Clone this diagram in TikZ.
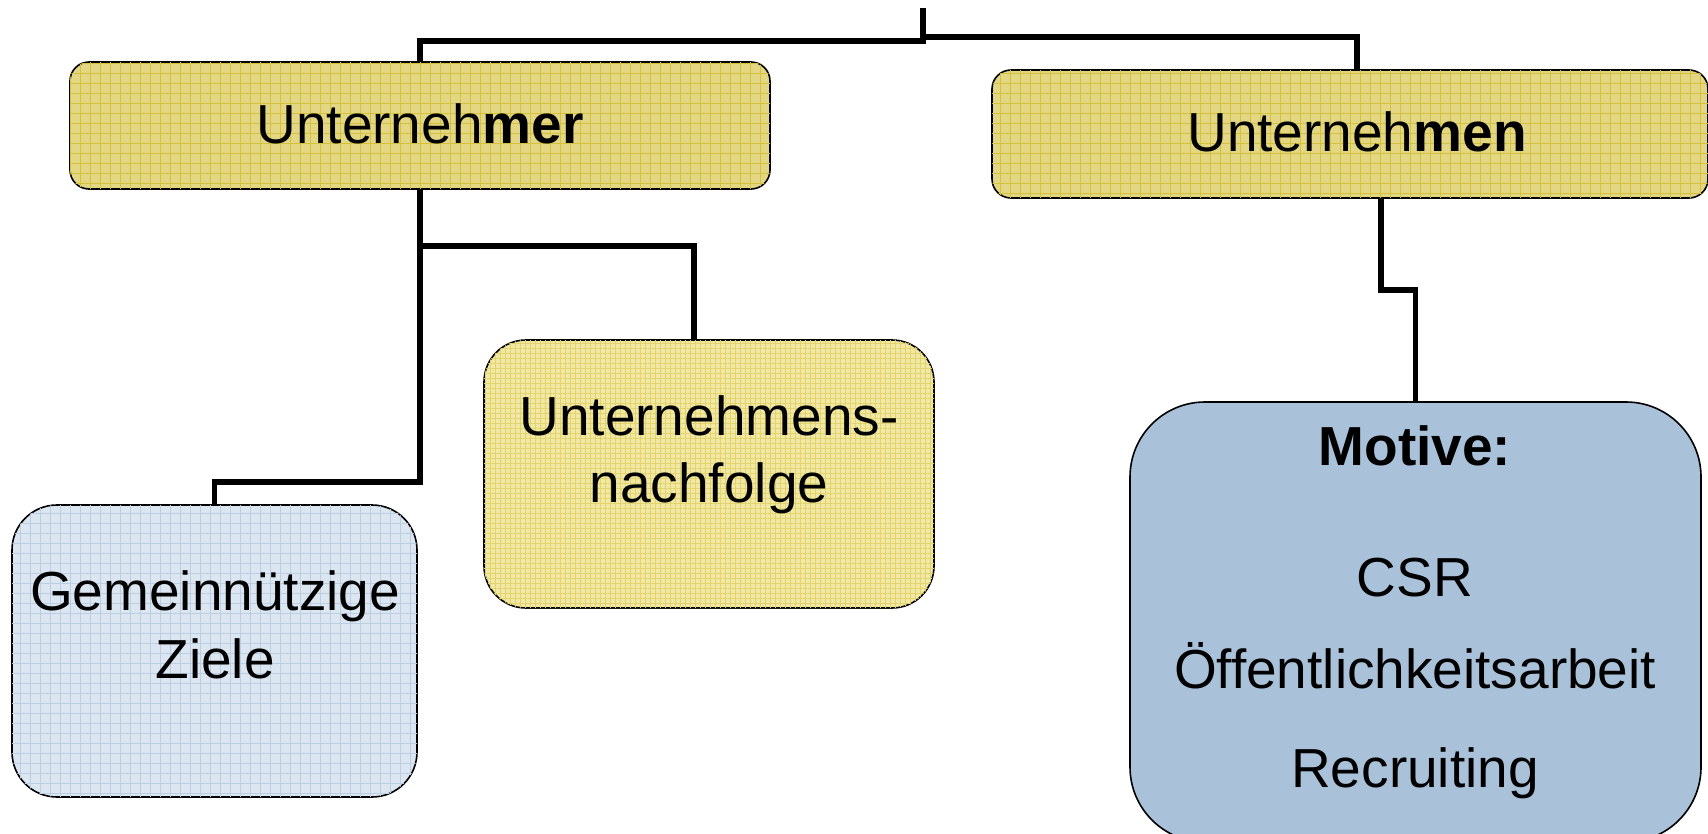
\documentclass[tikz,border=0pt]{standalone}
\usepackage{fontspec}
\setmainfont{Liberation Sans}
\usetikzlibrary{patterns.meta}
\definecolor{boxyellow}{HTML}{E4D783}
\definecolor{gridyellow}{HTML}{D4C13E}
\definecolor{paleyellow}{HTML}{F1E8A6}
\definecolor{palegrid}{HTML}{E2D36A}
\definecolor{paleblue}{HTML}{DCE6F1}
\definecolor{gridblue}{HTML}{BBCEE4}
\definecolor{motiveblue}{HTML}{A9C2DA}
\tikzset{
  orgbox/.style={
    rectangle,
    draw=black,
    line width=1.6pt,
    inner sep=0pt
  },
  headbox/.style={
    orgbox,
    fill=boxyellow,
    postaction={pattern={Hatch[angle=0, distance=10pt, line width=0.7pt]}, pattern color=gridyellow},
    rounded corners=19pt
  },
  successionbox/.style={
    orgbox,
    fill=paleyellow,
    postaction={pattern={Hatch[angle=0, distance=5pt, line width=0.5pt]}, pattern color=palegrid},
    rounded corners=42pt
  },
  charitybox/.style={
    orgbox,
    fill=paleblue,
    postaction={pattern={Hatch[angle=0, distance=10pt, line width=0.7pt]}, pattern color=gridblue},
    rounded corners=45pt
  },
  motivebox/.style={
    orgbox,
    fill=motiveblue,
    rounded corners=75pt
  },
  boxtext/.style={anchor=base, inner sep=0pt, font=\fontsize{55pt}{67pt}\selectfont},
  treeline/.style={line width=5.5pt, draw=black}
}

\begin{document}
\begin{tikzpicture}[x=1pt, y=-1pt]
  \useasboundingbox (0,0) rectangle (1708,833);

  % boxes
  \node[headbox, minimum width=700pt, minimum height=127pt] (unternehmer) at (420,125.5) {};
  \node[headbox, minimum width=716pt, minimum height=128pt] (unternehmen) at (1350,134) {};
  \node[successionbox, minimum width=450pt, minimum height=268pt] (nachfolge) at (709,474) {};
  \node[charitybox, minimum width=405pt, minimum height=292pt] (gemein) at (214.5,651) {};
  \node[motivebox, minimum width=571pt, minimum height=440pt] (motive) at (1415.5,622) {};

  % labels
  \node[boxtext] (unternehmer-text) at (420,143) {Unterneh\textbf{mer}};
  \node[boxtext] (unternehmen-text) at (1357,151) {Unterneh\textbf{men}};
  \node[boxtext] (nachfolge-text1) at (709,435) {Unternehmens-};
  \node[boxtext] (nachfolge-text2) at (709,502) {nachfolge};
  \node[boxtext] (gemein-text1) at (215,610) {Gemeinnützige};
  \node[boxtext] (gemein-text2) at (215,678) {Ziele};
  \node[boxtext, font=\fontsize{55pt}{67pt}\selectfont\bfseries] (motive-title) at (1415,465) {Motive:};
  \node[boxtext] (motive-csr) at (1415,596) {CSR};
  \node[boxtext] (motive-pr) at (1415,688) {Öffentlichkeitsarbeit};
  \node[boxtext] (motive-hr) at (1415,787) {Recruiting};

  % connectors
  \coordinate (root) at (923,8);
  \coordinate (split-l) at (923,41);
  \coordinate (split-r) at (923,37);
  \draw[treeline] (root) -- (split-l) -| (unternehmer.north);
  \draw[treeline] (split-r) -| ([xshift=7pt]unternehmen.north);
  \draw[treeline] (unternehmer.south) -- ++(0,292) -| (gemein.north);
  \draw[treeline] (unternehmer.south) ++(0,56) -| ([xshift=-15pt]nachfolge.north);
  \draw[treeline] ([xshift=31pt]unternehmen.south) -- ++(0,91) -| (motive.north);
\end{tikzpicture}
\end{document}
